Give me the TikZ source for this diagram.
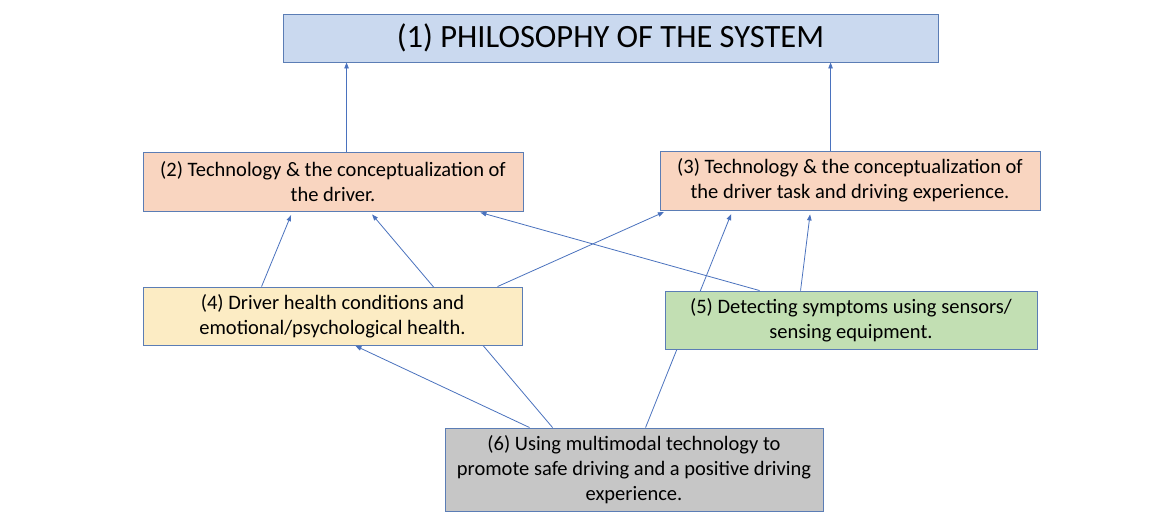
\documentclass[tikz,border=0pt]{standalone}
\usepackage{fontspec}
\setmainfont{Carlito}
\usetikzlibrary{arrows.meta,backgrounds}
\definecolor{boxline}{HTML}{5B7DB5}
\definecolor{arrowblue}{HTML}{4A72BE}
\definecolor{cA}{HTML}{CAD9EF}
\definecolor{cB}{HTML}{F9D5C0}
\definecolor{cC}{HTML}{FCECC4}
\definecolor{cD}{HTML}{C2DFB3}
\definecolor{cE}{HTML}{C6C6C6}
\begin{document}
\begin{tikzpicture}[x=1pt,y=-1pt,
  box/.style={draw=boxline, line width=0.9pt, align=center, inner sep=0pt,
    font=\fontsize{20.5}{25}\selectfont},
  conn/.style={draw=arrowblue, line width=0.8pt, -{Triangle[length=6pt,width=4.5pt]}}]
\useasboundingbox (0,0) rectangle (1165,529);
\node[box, fill=cA, minimum width=655pt, minimum height=48pt,
  font=\fontsize{32.5}{38}\selectfont] (b1) at (610.5,38) {(1) PHILOSOPHY OF THE SYSTEM};
\node[box, fill=cB, minimum width=380pt, minimum height=59pt] (b2) at (333,181.5)
  {(2) Technology \& the conceptualization of\\the driver.};
\node[box, fill=cB, minimum width=380pt, minimum height=59pt] (b3) at (850,180.5)
  {(3) Technology \& the conceptualization of\\the driver task and driving experience.};
\node[box, fill=cC, minimum width=379pt, minimum height=58pt] (b4) at (332.5,316)
  {(4) Driver health conditions and\\emotional/psychological health.};
\node[box, fill=cD, minimum width=372pt, minimum height=58pt] (b5) at (851,320)
  {(5) Detecting symptoms using sensors/\\sensing equipment.};
\node[box, fill=cE, minimum width=378pt, minimum height=83pt] (b6) at (634,469.5)
  {(6) Using multimodal technology to\\promote safe driving and a positive driving\\experience.};
\begin{pgfonlayer}{background}
  \fill[white] (0,0) rectangle (1165,529);
  \draw[conn] ([xshift=204pt]b2.north west) -- ([xshift=64pt]b1.south west);
  \draw[conn] ([xshift=171pt]b3.north west) -- ([xshift=548pt]b1.south west);
  \draw[conn, shorten >=4pt] ([xshift=119pt]b4.north west) -- ([xshift=150pt]b2.south west);
  \draw[conn, shorten >=4pt] ([xshift=108pt]b6.north west) -- ([xshift=227pt]b2.south west);
  \draw[conn, shorten >=4pt] ([xshift=355pt]b4.north west) -- ([xshift=8pt]b3.south west);
  \draw[conn, shorten >=4pt] ([xshift=95pt]b5.north west) -- ([xshift=334pt]b2.south west);
  \draw[conn, shorten >=4pt] ([xshift=201pt]b6.north west) -- ([xshift=73pt]b3.south west);
  \draw[conn, shorten >=4pt] ([xshift=136pt]b5.north west) -- ([xshift=151pt]b3.south west);
  \draw[conn, shorten >=1pt] ([xshift=85pt]b6.north west) -- ([xshift=212pt]b4.south west);
\end{pgfonlayer}
\end{tikzpicture}
\end{document}
